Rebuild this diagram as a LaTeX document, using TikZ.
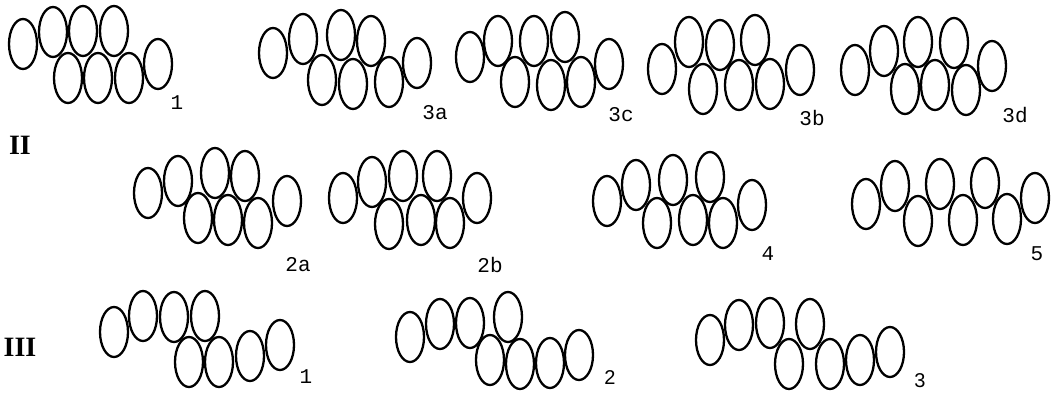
\documentclass[tikz,border=0pt]{standalone}
\usepackage{fontspec}
\setmainfont{Liberation Serif}
\newfontfamily\labelfont{Liberation Mono}
\newfontfamily\numfont{Liberation Sans}
\usetikzlibrary{positioning}

\tikzset{
  egg/.style={line width=2.3pt},
  tag/.style={font=\labelfont\fontsize{21}{21}\selectfont, inner sep=0pt},
  tagsans/.style={font=\numfont\fontsize{20}{20}\selectfont, inner sep=0pt},
  rowname/.style={font=\bfseries\fontsize{28}{28}\selectfont, inner sep=0pt}
}

\begin{document}
\begin{tikzpicture}[x=1pt, y=-1pt]
    \useasboundingbox (0,0) rectangle (1056,392);
    % row I
    \foreach \p in {(23,44),(53,32),(83,31),(114,31),(68,78),(98,78),(129,78),(158,64),
                    (273,53),(303,39),(341,35),(371,41),(322,80),(353,84),(389,82),(417,63),
                    (470,57),(498,41),(534,41),(565,37),(515,82),(551,85),(581,82),(609,64),
                    (662,69),(689,42),(720,45),(755,40),(703,89),(739,85),(770,84),(800,70),
                    (855,70),(884,51),(918,42),(954,43),(905,89),(935,85),(966,90),(992,66)}
        \draw[egg] \p ellipse [x radius=14pt, y radius=25pt];
    \node[tag] (lab1) at (177,103) {1};
    \node[tag] (lab3a) at (435,113) {3a};
    \node[tag] (lab3c) at (621,115) {3c};
    \node[tag] (lab3b) at (812,118) {3b};
    \node[tag] (lab3d) at (1015,115) {3d};
    % row II
    \node[rowname] (rowII) at (20,145) {II};
    \foreach \p in {(148,193),(178,181),(215,173),(245,176),(198,218),(228,220),(258,223),(287,201),
                    (343,198),(372,182),(403,176),(437,176),(389,224),(421,220),(450,223),(477,198),
                    (607,201),(636,185),(673,180),(710,177),(657,223),(693,220),(723,223),(752,205),
                    (866,204),(895,186),(940,184),(985,183),(918,221),(963,220),(1007,219),(1035,198)}
        \draw[egg] \p ellipse [x radius=14pt, y radius=25pt];
    \node[tag] (lab2a) at (298,265) {2a};
    \node[tag] (lab2b) at (490,265) {2b};
    \node[tag] (lab4) at (768,254) {4};
    \node[tag] (lab5) at (1037,254) {5};
    % row III
    \node[rowname] (rowIII) at (20,347) {III};
    \foreach \p in {(114,332),(143,316),(174,317),(205,316),(189,362),(219,362),(250,356),(280,345),
                    (410,337),(440,324),(470,323),(508,317),(490,360),(520,364),(550,363),(579,355),
                    (710,340),(739,325),(770,323),(810,324),(789,364),(830,364),(860,360),(890,352)}
        \draw[egg] \p ellipse [x radius=14pt, y radius=25pt];
    \node[tag] (labIII1) at (306,377) {1};
    \node[tagsans] (labIII2) at (610,378) {2};
    \node[tagsans] (labIII3) at (920,381) {3};
\end{tikzpicture}
\end{document}
